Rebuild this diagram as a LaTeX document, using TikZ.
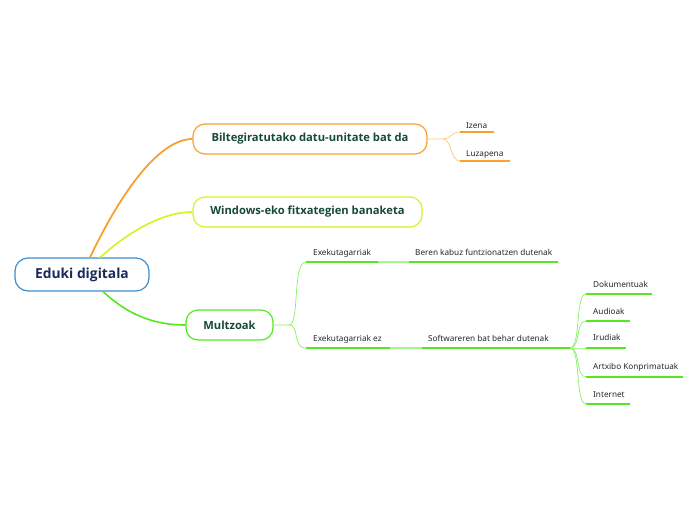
\documentclass[tikz,border=0pt]{standalone}
\usepackage{fontspec}
\setmainfont{Noto Sans}
\newfontfamily\boldsans{Open Sans}
\begin{document}
\begin{tikzpicture}[x=1pt,y=-1pt,
  rootbox/.style={draw=rootblue, line width=1.2pt, rounded corners=13pt, fill=white, minimum width=134pt, minimum height=33pt, inner sep=0pt, font=\boldsans\bfseries\fontsize{13.8}{15}\selectfont, text=rootnavy},
  mainbox/.style={line width=1.2pt, rounded corners=12pt, fill=white, minimum height=30pt, inner sep=0pt, font=\boldsans\bfseries\fontsize{11.2}{13}\selectfont, text=textgreen},
  leaf/.style={anchor=base west, inner sep=0pt, font=\fontsize{8.2}{9}\selectfont, text=black!85},
  uline/.style={line width=1.6pt},
  link/.style={line width=0.7pt},
]
\definecolor{rootblue}{HTML}{3D8ED0}
\definecolor{rootnavy}{HTML}{1B2A5A}
\definecolor{textgreen}{HTML}{17493A}
\definecolor{orng}{HTML}{F8A030}
\definecolor{lorng}{HTML}{FBC57A}
\definecolor{ygreen}{HTML}{D2F520}
\definecolor{grn}{HTML}{55E822}
\definecolor{lgrn}{HTML}{A8F590}
\useasboundingbox (0,0) rectangle (696,520);

% root
\node[rootbox] (root) at (82,274.5) {Eduki digitala};

% main branches
\node[mainbox, draw=orng, minimum width=234pt] (b1) at (310,139) {Biltegiratutako datu-unitate bat da};
\node[mainbox, draw=ygreen, minimum width=229pt] (b2) at (307.5,212) {Windows-eko fitxategien banaketa};
\node[mainbox, draw=grn, minimum width=87pt] (b3) at (229.5,325) {Multzoak};

\coordinate (r1) at (90,257.5);
\coordinate (r2) at (100,257.5);
\coordinate (r3) at (103,291.5);
\draw[orng, line width=1.8pt] (r1) .. controls (122,190) and (160,139) .. (b1.west);
\draw[ygreen, line width=1.6pt] (r2) .. controls (125,235) and (160,212) .. (b2.west);
\draw[grn, line width=1.6pt] (r3) .. controls (125,312) and (150,325) .. (b3.west);

% Biltegi leaves
\node[leaf] (izena) at (466,128) {Izena};
\node[leaf] (luza) at (466,156) {Luzapena};
\coordinate (iz0) at (460,132); \coordinate (iz1) at (494,132);
\coordinate (lu0) at (460,161); \coordinate (lu1) at (510,161);
\draw[orng, uline] (iz0) -- (iz1);
\draw[orng, uline] (lu0) -- (lu1);
\coordinate (h1) at (443,139);
\draw[lorng, link] (b1.east) -- (h1) .. controls (452,139) and (450,132) .. (iz0);
\draw[lorng, link] (h1) .. controls (452,139) and (450,161) .. (lu0);

% Multzoak leaves
\node[leaf] (exe) at (313,255) {Exekutagarriak};
\node[leaf] (exez) at (313,341) {Exekutagarriak ez};
\node[leaf] (beren) at (415,255) {Beren kabuz funtzionatzen dutenak};
\node[leaf] (soft) at (428,341) {Softwareren bat behar dutenak};
\coordinate (e0) at (306,262); \coordinate (e1) at (378,262);
\coordinate (be0) at (409,262); \coordinate (be1) at (558,262);
\coordinate (ez0) at (306,348); \coordinate (ez1) at (390,348);
\coordinate (so0) at (422,348); \coordinate (so1) at (570,348);
\draw[grn, uline] (e0) -- (e1);
\draw[lgrn, uline] (e1) -- (be0);
\draw[grn, uline] (be0) -- (be1);
\draw[grn, uline] (ez0) -- (ez1);
\draw[lgrn, uline] (ez1) -- (so0);
\draw[grn, uline] (so0) -- (so1);
\coordinate (h3) at (289,325);
\draw[lgrn!60!grn, link] (b3.east) -- (h3) .. controls (300,325) and (292,262) .. (e0);
\draw[lgrn!60!grn, link] (h3) .. controls (300,325) and (292,348) .. (ez0);

% Softwareren leaves
\node[leaf] (dok) at (593,287) {Dokumentuak};
\node[leaf] (aud) at (593,314) {Audioak};
\node[leaf] (iru) at (593,340) {Irudiak};
\node[leaf] (art) at (593,369) {Artxibo Konprimatuak};
\node[leaf] (int) at (593,397) {Internet};
\coordinate (d0) at (586,294); \coordinate (d1) at (652,294);
\coordinate (a0) at (586,321); \coordinate (a1) at (630,321);
\coordinate (i0) at (586,348); \coordinate (i1) at (626,348);
\coordinate (k0) at (586,377); \coordinate (k1) at (683,377);
\coordinate (n0) at (586,404); \coordinate (n1) at (630,404);
\foreach \s/\e in {d0/d1,a0/a1,i0/i1,k0/k1,n0/n1}
  \draw[grn, uline] (\s) -- (\e);
\foreach \t/\y in {d0/294,a0/321,i0/348,k0/377,n0/404}
  \draw[lgrn!60!grn, link] (so1) .. controls (581,348) and (575,\y) .. (\t);
\end{tikzpicture}
\end{document}
